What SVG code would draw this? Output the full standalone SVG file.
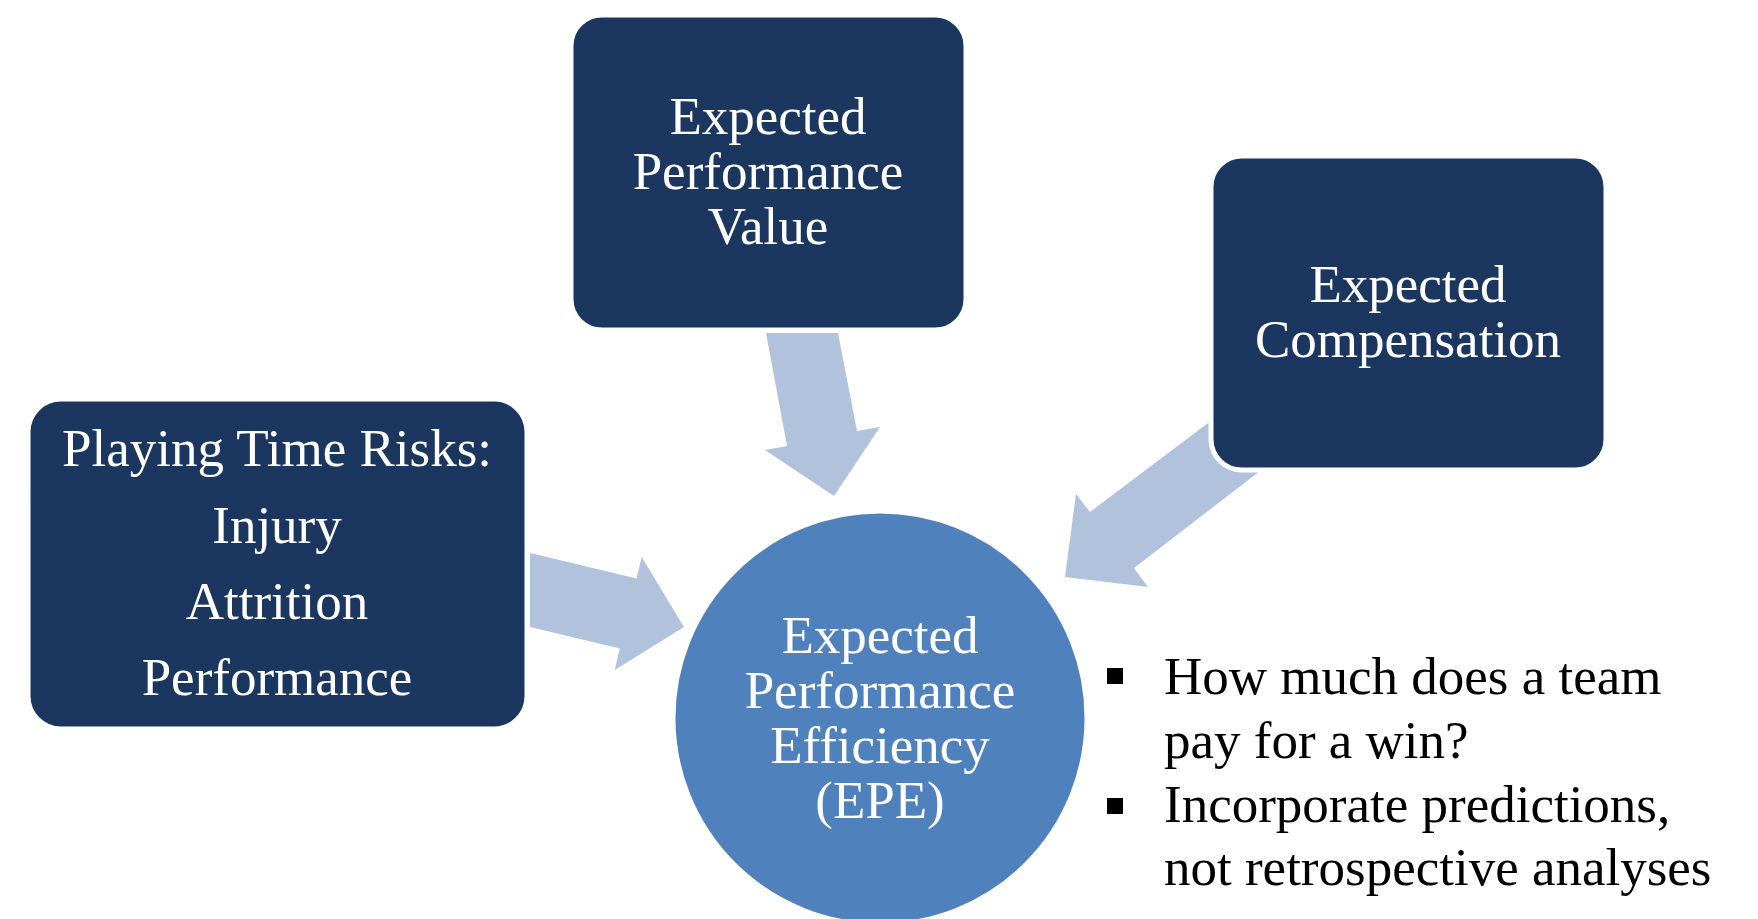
<svg xmlns="http://www.w3.org/2000/svg" width="1758" height="919" viewBox="0 0 1758 919">
<style>
.box{fill:#1B3760;stroke:#fff;stroke-width:5}
.circ{fill:#4F81BD;stroke:#fff;stroke-width:5}
.arr{fill:#B1C2DD}
.wt{font-family:"Liberation Serif","Times New Roman",serif;font-size:53px;fill:#fff;text-anchor:middle}
.bt{font-family:"Liberation Serif","Times New Roman",serif;font-size:53px;fill:#000}
</style>
<rect width="1758" height="919" fill="#fff"/>
<g id="connectors">
<path class="arr" d="M530,553 L636.6,578.5 L641.7,557.1 L684,627 L614.7,669.9 L619.8,648.5 L530,627 Z"/>
<path class="arr" d="M766,333 L838,333 L857,431 L880,427 L834,496 L765,450 L787,446 Z"/>
<path class="arr" d="M1326,334 L1343,407 L1134,568 L1148,587 L1065,577 L1076,494 L1090,512 Z"/>
</g>
<g id="node-value">
<rect class="box" x="571" y="15" width="395" height="315" rx="31"/>
<text class="wt" x="768" y="134">Expected</text>
<text class="wt" x="768" y="189">Performance</text>
<text class="wt" x="768" y="244">Value</text>
</g>
<g id="node-compensation">
<rect class="box" x="1211" y="156" width="395" height="314" rx="31"/>
<text class="wt" x="1408" y="302">Expected</text>
<text class="wt" x="1408" y="357">Compensation</text>
</g>
<g id="node-risks">
<rect class="box" x="28" y="399" width="499" height="330" rx="33"/>
<text class="wt" x="277" y="466">Playing Time Risks:</text>
<text class="wt" x="277" y="543">Injury</text>
<text class="wt" x="277" y="619">Attrition</text>
<text class="wt" x="277" y="695">Performance</text>
</g>
<g id="node-epe">
<circle class="circ" cx="880" cy="718" r="207"/>
<text class="wt" x="880" y="653">Expected</text>
<text class="wt" x="880" y="708">Performance</text>
<text class="wt" x="880" y="763">Efficiency</text>
<text class="wt" x="880" y="818">(EPE)</text>
</g>
<g id="notes">
<rect x="1107" y="668" width="16" height="16" fill="#000"/>
<rect x="1107" y="798" width="16" height="16" fill="#000"/>
<text class="bt" x="1164" y="694">How much does a team</text>
<text class="bt" x="1164" y="758">pay for a win?</text>
<text class="bt" x="1164" y="822">Incorporate predictions,</text>
<text class="bt" x="1164" y="885">not retrospective analyses</text>
</g>
</svg>
